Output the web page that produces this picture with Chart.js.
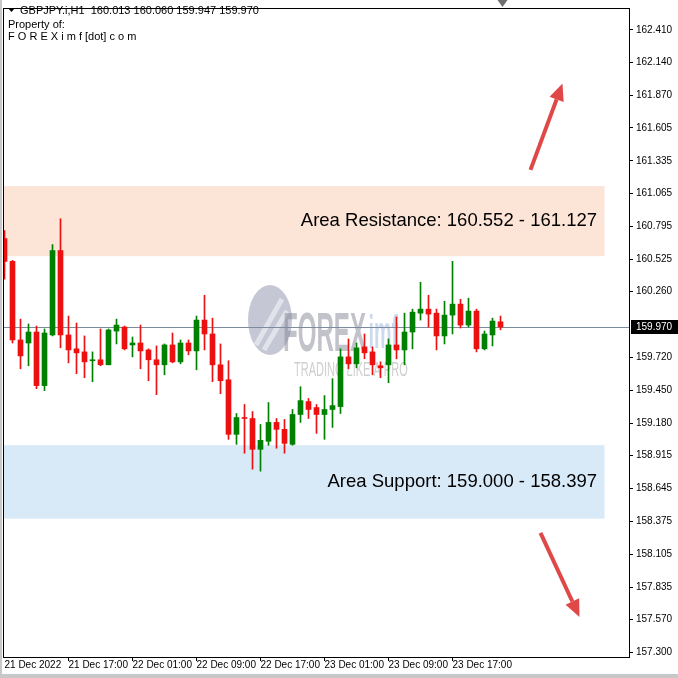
<!DOCTYPE html>
<html>
<head>
<meta charset="utf-8">
<script src="https://cdn.jsdelivr.net/npm/chart.js@4.4.0/dist/chart.umd.min.js"></script>
<style>
    html, body { margin: 0; padding: 0; background: #fff; }
    canvas { display: block; }
</style>
</head>
<body>
<canvas id="gbpjpy_chart" width="678" height="678"></canvas>
<script>
// GBPJPY.i H1, bars from 21 Dec 2022 09:00 to 23 Dec 2022 23:00
var opens = [160.696, 160.509, 159.864, 159.839, 159.929, 159.489, 159.905, 160.598, 159.905, 159.791,
    159.766, 159.693, 159.701, 159.660, 159.937, 159.970, 159.823, 159.839, 159.782, 159.701,
    159.660, 159.823, 159.684, 159.839, 159.774, 160.027, 159.913, 159.660, 159.537, 159.089,
    159.227, 159.219, 158.966, 159.032, 159.187, 159.130, 159.007, 159.252, 159.358, 159.309,
    159.252, 159.293, 159.317, 159.725, 159.668, 159.807, 159.766, 159.652, 159.660, 159.823,
    159.782, 159.929, 160.084, 160.117, 160.084, 159.897, 160.068, 160.158, 159.986, 160.101,
    159.791, 159.905, 160.013];
var highs = [160.762, 160.517, 160.035, 159.995, 159.978, 159.954, 160.647, 160.859, 160.060, 160.003,
    159.897, 159.766, 159.954, 159.954, 160.035, 159.978, 159.888, 159.986, 159.791, 159.815,
    159.831, 159.921, 159.864, 159.864, 160.060, 160.231, 160.043, 159.831, 159.693, 159.260,
    159.334, 159.276, 159.170, 159.350, 159.219, 159.211, 159.293, 159.480, 159.383, 159.334,
    159.407, 159.546, 159.791, 159.872, 159.839, 159.913, 159.807, 159.684, 159.872, 160.052,
    160.084, 160.117, 160.337, 160.231, 160.117, 160.182, 160.509, 160.198, 160.207, 160.117,
    159.937, 160.043, 160.060];
var lows = [160.362, 159.839, 159.627, 159.652, 159.464, 159.448, 159.897, 159.799, 159.676, 159.587,
    159.554, 159.521, 159.652, 159.660, 159.831, 159.782, 159.725, 159.627, 159.529, 159.415,
    159.578, 159.676, 159.668, 159.742, 159.619, 159.782, 159.521, 159.423, 159.048, 159.007,
    158.934, 158.803, 158.787, 158.999, 158.975, 158.934, 158.999, 159.187, 159.219, 159.097,
    159.048, 159.146, 159.260, 159.627, 159.635, 159.709, 159.578, 159.554, 159.513, 159.709,
    159.660, 159.791, 160.027, 159.970, 159.782, 159.831, 159.913, 159.962, 159.970, 159.766,
    159.782, 159.815, 159.947];
var closes = [160.509, 159.864, 159.733, 159.929, 159.489, 159.921, 160.598, 159.905, 159.782, 159.758,
    159.684, 159.701, 159.660, 159.946, 159.986, 159.791, 159.839, 159.774, 159.701, 159.660,
    159.823, 159.684, 159.839, 159.774, 160.027, 159.913, 159.660, 159.529, 159.089, 159.227,
    159.219, 158.966, 159.040, 159.187, 159.130, 159.015, 159.252, 159.366, 159.293, 159.252,
    159.293, 159.325, 159.725, 159.668, 159.799, 159.758, 159.660, 159.635, 159.823, 159.782,
    159.929, 160.092, 160.117, 160.076, 159.897, 160.068, 160.158, 159.986, 160.101, 159.791,
    159.913, 160.019, 159.970];

var timeTicks = [0, 8, 16, 24, 32, 40, 48, 56];
var timeLabels = ["21 Dec 2022", "21 Dec 17:00", "22 Dec 01:00", "22 Dec 09:00",
    "22 Dec 17:00", "23 Dec 01:00", "23 Dec 09:00", "23 Dec 17:00"];
var priceTicks = [162.410, 162.140, 161.870, 161.605, 161.335, 161.065, 160.795, 160.525, 160.260,
    159.720, 159.450, 159.180, 158.915, 158.645, 158.375, 158.105, 157.835, 157.570, 157.300];

var resistanceZone = [160.552, 161.127];
var supportZone = [158.397, 159.000];
var zoneEnd = 75;
var upArrow = [[65.75, 161.26], [69.75, 161.97]];
var downArrow = [[67.0, 158.28], [71.875, 157.59]];

var last = opens.length - 1;
var UP = 'rgb(0, 128, 0)';
var DOWN = 'rgb(236, 16, 16)';

function candleColor(ctx) {
    var i = ctx.dataIndex;
    return closes[i] >= opens[i] ? UP : DOWN;
}

function drawArrow(ctx, x0, y0, x1, y1) {
    var ang = Math.atan2(y1 - y0, x1 - x0);
    var head = 17, half = 7.5;
    var bx = x1 - head * Math.cos(ang), by = y1 - head * Math.sin(ang);
    ctx.strokeStyle = '#e04848';
    ctx.fillStyle = '#e04848';
    ctx.lineWidth = 4;
    ctx.beginPath();
    ctx.moveTo(x0, y0);
    ctx.lineTo(bx, by);
    ctx.stroke();
    ctx.beginPath();
    ctx.moveTo(x1, y1);
    ctx.lineTo(bx + half * Math.sin(ang), by - half * Math.cos(ang));
    ctx.lineTo(bx - half * Math.sin(ang), by + half * Math.cos(ang));
    ctx.closePath();
    ctx.fill();
}

var chartDecor = {
    id: 'chartDecor',
    beforeDraw: function (chart) {
        var ctx = chart.ctx, a = chart.chartArea, xs = chart.scales.x, ys = chart.scales.y;
        ctx.save();
        ctx.fillStyle = '#ffffff';
        ctx.fillRect(0, 0, chart.width, chart.height);
        var xEnd = xs.getPixelForValue(zoneEnd);
        var t = ys.getPixelForValue(resistanceZone[1]), b = ys.getPixelForValue(resistanceZone[0]);
        ctx.fillStyle = '#fce4d7';
        ctx.fillRect(a.left, t, xEnd - a.left, b - t);
        t = ys.getPixelForValue(supportZone[1]);
        b = ys.getPixelForValue(supportZone[0]);
        ctx.fillStyle = '#d8e9f8';
        ctx.fillRect(a.left, t, xEnd - a.left, b - t);
        ctx.restore();
    },
    beforeDatasetsDraw: function (chart) {
        var ctx = chart.ctx, a = chart.chartArea, ys = chart.scales.y;
        ctx.save();
        // watermark
        ctx.globalAlpha = 0.5;
        ctx.fillStyle = '#8c8fac';
        ctx.beginPath();
        ctx.ellipse(270, 320, 22, 35, 0, 0, Math.PI * 2);
        ctx.fill();
        ctx.strokeStyle = '#ffffff';
        ctx.lineWidth = 5;
        ctx.beginPath();
        ctx.moveTo(256, 345);
        ctx.lineTo(282, 299);
        ctx.moveTo(264, 350);
        ctx.lineTo(287, 311);
        ctx.stroke();
        ctx.save();
        ctx.translate(283, 351);
        ctx.scale(0.43, 1);
        ctx.font = 'bold 56px "Liberation Sans"';
        ctx.fillStyle = '#868696';
        ctx.textBaseline = 'alphabetic';
        ctx.fillText('FOREX', 0, 0);
        var w = ctx.measureText('FOREX').width;
        ctx.font = 'bold 46px "Liberation Sans"';
        ctx.fillStyle = '#9cb6de';
        ctx.fillText('imf', w + 6, -3);
        ctx.restore();
        ctx.save();
        ctx.translate(294, 376);
        ctx.scale(0.55, 1);
        ctx.font = '20px "Liberation Sans"';
        ctx.fillStyle = '#a0a0a0';
        ctx.fillText('TRADING LIKE A PRO', 0, 0);
        ctx.restore();
        ctx.globalAlpha = 1;
        // current price line
        var py = Math.round(ys.getPixelForValue(closes[last])) + 0.5;
        ctx.strokeStyle = '#7c8c9c';
        ctx.lineWidth = 1;
        ctx.beginPath();
        ctx.moveTo(a.left, py);
        ctx.lineTo(a.right, py);
        ctx.stroke();
        ctx.restore();
    },
    afterDraw: function (chart) {
        var ctx = chart.ctx, a = chart.chartArea, xs = chart.scales.x, ys = chart.scales.y;
        ctx.save();
        // zone captions
        ctx.fillStyle = '#000000';
        ctx.font = '18.5px "Liberation Sans"';
        ctx.textAlign = 'right';
        ctx.textBaseline = 'middle';
        var midR = ys.getPixelForValue((resistanceZone[0] + resistanceZone[1]) / 2);
        var midS = ys.getPixelForValue((supportZone[0] + supportZone[1]) / 2);
        ctx.fillText('Area Resistance: ' + resistanceZone[0].toFixed(3) + ' - ' + resistanceZone[1].toFixed(3), 597, midR);
        ctx.fillText('Area Support: ' + supportZone[1].toFixed(3) + ' - ' + supportZone[0].toFixed(3), 597, midS);
        // arrows
        drawArrow(ctx, xs.getPixelForValue(upArrow[0][0]), ys.getPixelForValue(upArrow[0][1]),
            xs.getPixelForValue(upArrow[1][0]), ys.getPixelForValue(upArrow[1][1]));
        drawArrow(ctx, xs.getPixelForValue(downArrow[0][0]), ys.getPixelForValue(downArrow[0][1]),
            xs.getPixelForValue(downArrow[1][0]), ys.getPixelForValue(downArrow[1][1]));
        // header
        ctx.textAlign = 'left';
        ctx.textBaseline = 'middle';
        ctx.font = '11px "Liberation Sans"';
        ctx.fillStyle = '#000000';
        ctx.beginPath();
        ctx.moveTo(8, 8);
        ctx.lineTo(15, 8);
        ctx.lineTo(11.5, 12);
        ctx.closePath();
        ctx.fill();
        ctx.fillText('GBPJPY.i,H1  ' + opens[last].toFixed(3) + ' ' + highs[last].toFixed(3) + ' ' +
            lows[last].toFixed(3) + ' ' + closes[last].toFixed(3), 20, 11);
        ctx.fillText('Property of:', 8, 25);
        ctx.fillText('F O R E X i m f [dot] c o m', 8, 37);
        // frame
        ctx.strokeStyle = '#000000';
        ctx.lineWidth = 1;
        ctx.strokeRect(a.left - 0.5, a.top - 0.5, a.right - a.left + 1, a.bottom - a.top + 1);
        // shift marker
        var mx = xs.getPixelForValue(last) + 2;
        ctx.fillStyle = '#707070';
        ctx.beginPath();
        ctx.moveTo(mx - 5, 0);
        ctx.lineTo(mx + 5, 0);
        ctx.lineTo(mx, 7);
        ctx.closePath();
        ctx.fill();
        // price box
        var py = Math.round(ys.getPixelForValue(closes[last]));
        ctx.fillStyle = '#000000';
        ctx.fillRect(a.right + 2, py - 7, chart.width - a.right - 2, 14);
        ctx.fillStyle = '#ffffff';
        ctx.font = '10px "Liberation Sans"';
        ctx.fillText(closes[last].toFixed(3), a.right + 7, py + 0.5);
        // window border
        ctx.fillStyle = '#c8c8c8';
        ctx.fillRect(0, chart.height - 4, chart.width, 4);
        ctx.fillRect(0, 0, 2, chart.height);
        ctx.restore();
    }
};

var ctx = document.getElementById('gbpjpy_chart').getContext('2d');
new Chart(ctx, {
    type: 'bar',
    data: {
        datasets: [{
            label: 'wick',
            data: opens.map(function (o, i) { return {x: i, y: [lows[i], highs[i]]}; }),
            backgroundColor: candleColor,
            barThickness: 1,
            grouped: false,
            order: 2
        }, {
            label: 'body',
            data: opens.map(function (o, i) { return {x: i, y: [opens[i], closes[i]]}; }),
            backgroundColor: candleColor,
            barThickness: 5,
            minBarLength: 1,
            grouped: false,
            order: 1
        }]
    },
    options: {
        responsive: false,
        animation: false,
        layout: {padding: {left: 4, top: 5, right: 0, bottom: 0}},
        plugins: {legend: {display: false}, tooltip: {enabled: false}},
        scales: {
            x: {
                type: 'linear',
                offset: false,
                min: -0.0625,
                max: 78.0625,
                afterBuildTicks: function (scale) {
                    scale.ticks = timeTicks.map(function (v) { return {value: v}; });
                },
                afterFit: function (scale) { scale.height = 21; },
                grid: {
                    offset: false,
                    drawOnChartArea: false,
                    tickLength: 4,
                    color: function (c) { return c.index === 0 ? 'rgba(0,0,0,0)' : '#000000'; }
                },
                border: {color: '#000000'},
                ticks: {
                    autoSkip: false,
                    maxRotation: 0,
                    align: 'start',
                    padding: -2,
                    color: '#000000',
                    font: {family: 'Liberation Sans', size: 10},
                    callback: function (v, idx) { return timeLabels[idx]; }
                }
            },
            y: {
                position: 'right',
                min: 157.261,
                max: 162.581,
                afterBuildTicks: function (scale) {
                    scale.ticks = priceTicks.map(function (v) { return {value: v}; });
                },
                afterFit: function (scale) { scale.width = 49; },
                grid: {drawOnChartArea: false, tickLength: 4, color: '#000000'},
                border: {color: '#000000'},
                ticks: {
                    padding: 3,
                    color: '#000000',
                    font: {family: 'Liberation Sans', size: 10},
                    callback: function (v) { return Number(v).toFixed(3); }
                }
            }
        }
    },
    plugins: [chartDecor]
});
</script>
</body>
</html>
